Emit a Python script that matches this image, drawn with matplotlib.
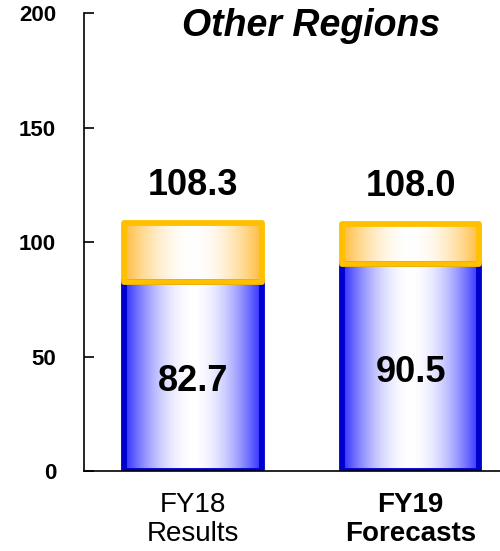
#!/usr/bin/env python3
# -*- coding: utf-8 -*-
"""Stacked sales bars for Other Regions: FY18 results vs FY19 forecasts."""

import matplotlib
matplotlib.use("Agg")
import matplotlib.pyplot as plt
import numpy as np
from matplotlib.colors import to_rgb

categories = ["FY18\nResults", "FY19\nForecasts"]
base_values = [82.7, 90.5]
totals = [108.3, 108.0]
yticks = [0, 50, 100, 150, 200]

plt.rcParams["font.family"] = ["Liberation Sans", "DejaVu Sans"]


def gradient_strip(edge, n=256, power=1.9):
    """Horizontal strip: saturated edge colour at both sides, white in the middle."""
    t = np.linspace(0.0, 1.0, n)
    d = np.abs(t - 0.5) * 2.0
    mix = d ** power
    edge = np.array(to_rgb(edge))
    rgb = (1.0 - mix)[:, None] * np.ones(3) + mix[:, None] * edge
    return rgb[None, :, :]


def fill_gradient(ax, bar, edge):
    x0, y0 = bar.get_x(), bar.get_y()
    w, h = bar.get_width(), bar.get_height()
    im = ax.imshow(gradient_strip(edge), extent=(x0, x0 + w, y0, y0 + h),
                   aspect="auto", interpolation="bicubic", zorder=1)
    im.set_clip_path(bar)


fig = plt.figure(figsize=(5.0, 5.51), dpi=100)
ax = fig.add_axes([0.168, 0.145, 0.832, 0.831])

x = np.arange(len(categories))
upper = [t - b for t, b in zip(totals, base_values)]
width = 0.63

blue = ax.bar(x, base_values, width, facecolor="none", edgecolor="#0000CC",
              linewidth=4.2, zorder=2)
orange = ax.bar(x, upper, width, bottom=base_values, facecolor="none",
                edgecolor="#FFC000", linewidth=4.2, zorder=3)
for b in blue:
    b.set_joinstyle("miter")
    fill_gradient(ax, b, "#2A2AFF")
for b in orange:
    b.set_joinstyle("round")
    fill_gradient(ax, b, "#FFBB3A")

for xi, base, total in zip(x, base_values, totals):
    ax.text(xi, base / 2 - 2, f"{base:.1f}", ha="center", va="center",
            fontsize=26, fontweight="bold", zorder=4)
    ax.annotate(f"{total:.1f}", (xi, total), xytext=(0, 20),
                textcoords="offset points", ha="center", va="baseline",
                fontsize=26, fontweight="bold", zorder=4)

ax.set_xlim(-0.5, 1.41)
ax.set_ylim(0, 200)
ax.set_yticks(yticks)
ax.set_yticklabels([str(v) for v in yticks], fontsize=16, fontweight="bold")
ax.tick_params(axis="y", direction="in", length=7, width=1.2, pad=20)
ax.set_xticks(x)
ax.set_xticklabels(categories, fontsize=20, linespacing=1.15)
ax.tick_params(axis="x", length=0, pad=15)
ax.get_xticklabels()[1].set_fontweight("bold")

for side in ("top", "right"):
    ax.spines[side].set_visible(False)
for side in ("left", "bottom"):
    ax.spines[side].set_linewidth(1.2)

fig.text(0.622, 1 - 36 / 551, "Other Regions", ha="center", va="baseline",
         fontsize=27, fontweight="bold", fontstyle="italic")

fig.savefig("out.png", dpi=100)
